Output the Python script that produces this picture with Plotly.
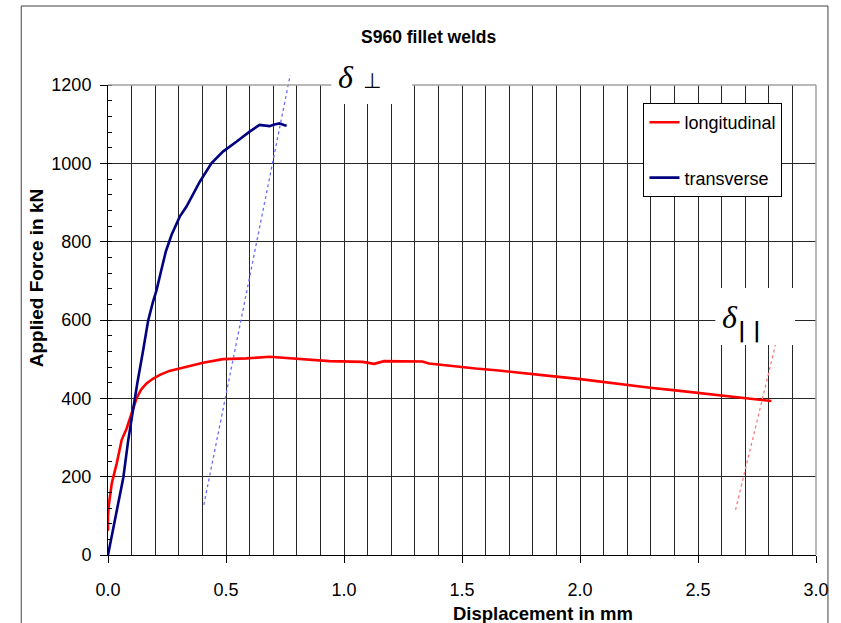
import plotly.graph_objects as go

# Load-displacement readings, S960 fillet weld specimens
long_disp = [0.0, 0.0, 0.004, 0.016, 0.037, 0.058, 0.079, 0.100, 0.121, 0.140,
             0.163, 0.190, 0.220, 0.260, 0.304, 0.350, 0.403, 0.487, 0.586, 0.684,
             0.769, 0.825, 0.938, 1.079, 1.128, 1.170, 1.332, 1.360, 1.459, 1.558,
             1.656, 1.755, 1.860, 2.001, 2.100, 2.198, 2.297, 2.395, 2.494, 2.600,
             2.698, 2.811]
long_force = [62, 100, 130, 183, 234, 294, 323, 362, 400, 422,
              438, 450, 460, 470, 477, 484, 491, 500, 502, 506,
              502, 499, 495, 493, 488, 495, 494, 489, 482, 476,
              471, 464, 458, 449, 441, 434, 427, 421, 414, 407,
              400, 393]

trans_disp = [0.0, 0.020, 0.040, 0.065, 0.085, 0.107, 0.124, 0.149, 0.170, 0.190,
              0.206, 0.225, 0.245, 0.269, 0.304, 0.332, 0.360, 0.389, 0.438, 0.487,
              0.544, 0.600, 0.642, 0.684, 0.705, 0.727, 0.745, 0.757]
trans_force = [0, 60, 125, 198, 290, 379, 438, 523, 598, 645,
               677, 725, 775, 817, 864, 889, 922, 953, 1000, 1030,
               1055, 1081, 1098, 1095, 1099, 1102, 1098, 1096]

perp_guide_disp = [0.406, 0.772]
perp_guide_force = [128, 1225]
par_guide_disp = [2.659, 2.828]
par_guide_force = [115, 536]

x_ticks = [0.0, 0.5, 1.0, 1.5, 2.0, 2.5, 3.0]
x_tick_text = ["0.0", "0.5", "1.0", "1.5", "2.0", "2.5", "3.0"]
y_ticks = [0, 200, 400, 600, 800, 1000, 1200]

# Geometry (pixels): plot area 710 x 470, guides may run 15 px above it
W, H = 841, 623
ML, MR, MT, MB = 108, 23, 70, 68
PW, PH = W - ML - MR, H - MT - MB
MAIN_H = 470
Y_TOP = 1200
y2_top = Y_TOP * PH / MAIN_H


def px(xp):
    return (xp - ML) / PW


def py(yp):
    return (H - MB - yp) / PH


FONT = "Liberation Sans, Arial, sans-serif"
GRID = "#262626"

fig = go.Figure()

fig.add_trace(go.Scatter(
    x=long_disp, y=long_force, mode="lines", name="longitudinal",
    line=dict(color="#ff0000", width=2.6), legendgroup="a",
    xaxis="x", yaxis="y"))
fig.add_trace(go.Scatter(
    x=trans_disp, y=trans_force, mode="lines", name="transverse",
    line=dict(color="#000080", width=2.6), legendgroup="b",
    xaxis="x", yaxis="y"))

fig.add_trace(go.Scatter(
    x=perp_guide_disp, y=perp_guide_force, mode="lines", showlegend=False,
    line=dict(color="#6b6bff", width=1.3, dash="dot"), xaxis="x2", yaxis="y2"))
fig.add_trace(go.Scatter(
    x=par_guide_disp, y=par_guide_force, mode="lines", showlegend=False,
    line=dict(color="#ff7a7a", width=1.3, dash="dot"), xaxis="x2", yaxis="y2"))

tick_font = dict(family=FONT, size=18, color="#000")

fig.update_layout(
    width=W, height=H,
    margin=dict(l=ML, r=MR, t=MT, b=MB),
    paper_bgcolor="white",
    plot_bgcolor="rgba(0,0,0,0)",
    showlegend=True,
    legend=dict(
        x=px(645), y=py(103), xanchor="left", yanchor="top",
        bgcolor="white", bordercolor="#000", borderwidth=1,
        font=dict(family=FONT, size=18, color="#000"),
        tracegroupgap=29, itemwidth=30, traceorder="grouped"),
    xaxis=dict(
        domain=[0, 1], range=[0, 3], anchor="y",
        tickvals=x_ticks, ticktext=x_tick_text,
        ticks="outside", ticklen=7, tickcolor="#000", tickfont=tick_font,
        ticklabelstandoff=11,
        showgrid=True, gridcolor=GRID, gridwidth=1.2,
        minor=dict(dtick=0.1, tick0=0, showgrid=True, gridcolor=GRID,
                   gridwidth=1.2, ticks=""),
        showline=True, linecolor="#000", linewidth=1, zeroline=False),
    yaxis=dict(
        domain=[0, MAIN_H / PH], range=[0, Y_TOP], anchor="x",
        tickvals=y_ticks,
        ticks="outside", ticklen=7, tickcolor="#000", tickfont=tick_font,
        ticklabelstandoff=5,
        showgrid=True, gridcolor=GRID, gridwidth=1.2,
        minor=dict(dtick=40, tick0=0, ticks="inside", ticklen=4,
                   tickcolor="#000", showgrid=False),
        showline=True, linecolor="#000", linewidth=1, zeroline=False),
    xaxis2=dict(domain=[0, 1], range=[0, 3], anchor="y2", visible=False),
    yaxis2=dict(domain=[0, 1], range=[0, y2_top], anchor="x2", visible=False),
)

shapes = [
    # outer chart frame
    dict(type="rect", xref="paper", yref="paper",
         x0=px(21), x1=px(830), y0=py(630), y1=py(6),
         line=dict(color="#404040", width=1), fillcolor="rgba(0,0,0,0)",
         layer="below"),
    # plot-area border (top and right)
    dict(type="line", xref="paper", yref="paper",
         x0=0, x1=1, y0=MAIN_H / PH, y1=MAIN_H / PH,
         line=dict(color="#a0a0a0", width=1.5), layer="above"),
    dict(type="line", xref="paper", yref="paper",
         x0=1, x1=1, y0=0, y1=MAIN_H / PH,
         line=dict(color="#a0a0a0", width=1.5), layer="above"),
    # white label backgrounds
    dict(type="rect", xref="paper", yref="paper",
         x0=px(332), x1=px(413), y0=py(104), y1=py(62),
         line=dict(width=0), fillcolor="white", layer="above"),
    dict(type="rect", xref="paper", yref="paper",
         x0=px(717), x1=px(797), y0=py(345), y1=py(288),
         line=dict(width=0), fillcolor="white", layer="above"),
]
fig.update_layout(shapes=shapes)

annotations = [
    dict(text="<b>S960 fillet welds</b>", x=px(429), y=py(37),
         font=dict(family=FONT, size=17.5, color="#000")),
    dict(text="<b>Displacement in mm</b>", x=px(544), y=py(613),
         font=dict(family=FONT, size=18.5, color="#000")),
    dict(text="<b>Applied Force in kN</b>", x=px(36), y=py(278), textangle=-90,
         font=dict(family=FONT, size=19, color="#000")),
    dict(text="<i>δ</i>", x=px(347), y=py(77),
         font=dict(family="Liberation Serif, serif", size=32, color="#000")),
    dict(text="⊥", x=px(373), y=py(81),
         font=dict(family="DejaVu Sans, sans-serif", size=21, color="#000")),
    dict(text="<i>δ</i>", x=px(732), y=py(317),
         font=dict(family="Liberation Serif, serif", size=32, color="#000")),
    dict(text="<b>| |</b>", x=px(751), y=py(330),
         font=dict(family="DejaVu Sans, sans-serif", size=21, color="#000")),
]
for a in annotations:
    a.update(xref="paper", yref="paper", showarrow=False,
             xanchor="center", yanchor="middle")
fig.update_layout(annotations=annotations)

fig.write_html("out.html")
